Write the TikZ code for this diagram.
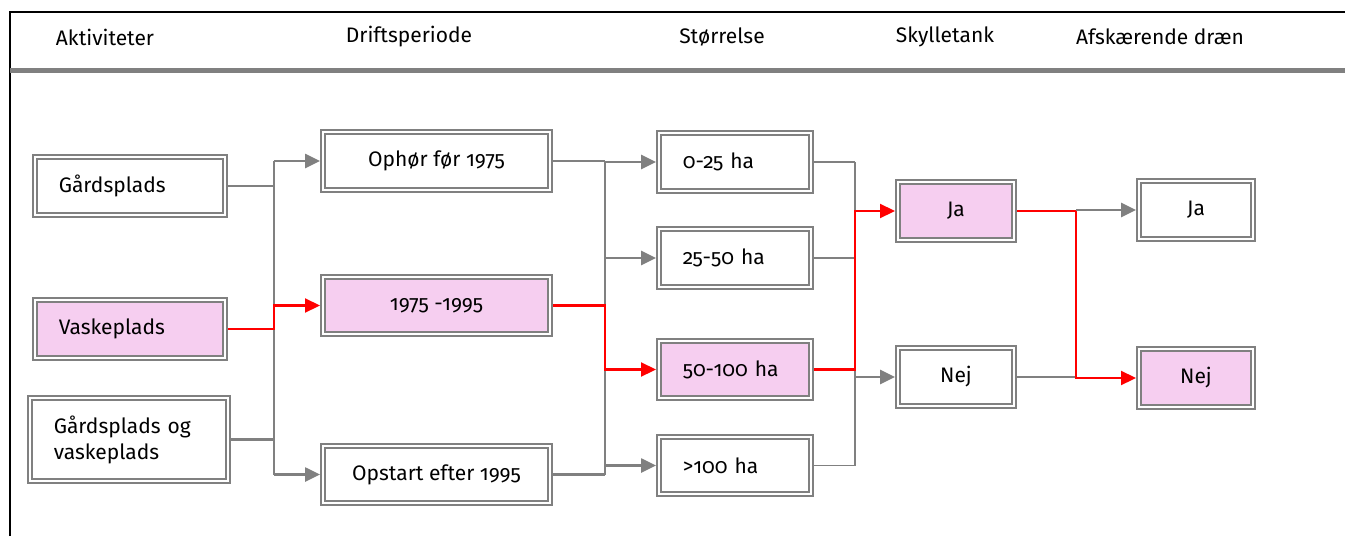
\documentclass[tikz,border=0pt]{standalone}
\usepackage{fontspec}
\setmainfont{Fira Sans}[Numbers=OldStyle]
\usetikzlibrary{arrows.meta}

\definecolor{boxgray}{RGB}{128,128,128}
\definecolor{pathred}{RGB}{255,0,0}
\definecolor{chosen}{RGB}{246,206,240}

\tikzset{
  box/.style={draw=boxgray, double=white, double distance=1.6pt, line width=2pt,
    outer sep=2.8pt, minimum height=57.5pt},
  lbox/.style={box, align=left, inner xsep=24pt, text width=#1},
  cbox/.style={box, align=center, minimum width=#1},
  gline/.style={draw=boxgray, line width=2.6pt},
  gthin/.style={draw=boxgray, line width=1.8pt},
  garrow/.style={gline, -{Triangle[length=15pt,width=14pt]}},
  rline/.style={draw=pathred, line width=2.2pt},
  rarrow/.style={rline, -{Triangle[length=15pt,width=14pt]}}
}

\begin{document}
\begin{tikzpicture}[x=1pt, y=-1pt, font=\fontsize{21}{26}\selectfont]
  \useasboundingbox (0,0) rectangle (1345,536);

  \draw[black, line width=1.5pt] (10,536) -- (10,12) -- (1345,12);
  \draw[boxgray, line width=5pt] (10,70) -- (1345,70);

  \node (h1) at (105,37) {Aktiviteter};
  \node (h2) at (409,37) {Driftsperiode};
  \node (h3) at (722,37) {Størrelse};
  \node (h4) at (945,37) {Skylletank};
  \node (h5) at (1160,37) {Afskærende dræn};

  \node[lbox=142.4pt] (gaard) at (130,186) {Gårdsplads};
  \node[lbox=142.4pt, fill=chosen] (vaske) at (130,329) {Vaskeplads};
  \node[lbox=150.4pt, minimum height=83.4pt] (begge) at (129,439.5) {Gårdsplads og\\vaskeplads};

  \node[cbox=227.4pt] (ophor) at (436.5,161) {Ophør før 1975};
  \node[cbox=227.4pt, fill=chosen] (mellem) at (436.5,305.5) {1975 -1995};
  \node[cbox=227.4pt] (opstart) at (436.5,474.5) {Opstart efter 1995};

  \node[lbox=104.4pt] (s1) at (735,162) {0-25 ha};
  \node[lbox=104.4pt] (s2) at (735,258) {25-50 ha};
  \node[lbox=104.4pt, fill=chosen] (s3) at (735,369.5) {50-100 ha};
  \node[lbox=104.4pt] (s4) at (735,465.5) {>100 ha};

  \node[cbox=116.4pt, fill=chosen] (tankja) at (956,211) {Ja};
  \node[cbox=116.4pt] (tanknej) at (956,377) {Nej};

  \node[cbox=114.4pt] (draenja) at (1196,210) {Ja};
  \node[cbox=114.4pt, fill=chosen] (draennej) at (1196,378) {Nej};

  \coordinate (j1) at (274,0);
  \coordinate (j2) at (605,0);
  \coordinate (j3) at (855,0);
  \coordinate (j4) at (1076,0);

  \draw[gline] (gaard.east) -- (gaard.east -| j1);
  \draw[gline] (begge.east) -- (begge.east -| j1);
  \draw[gline] (j1 |- ophor.west) -- (j1 |- opstart.west);
  \draw[garrow] (j1 |- ophor.west) -- (ophor.west);
  \draw[garrow] (j1 |- opstart.west) -- (opstart.west);

  \draw[gline] (ophor.east) -- (ophor.east -| j2);
  \draw[gline] (opstart.east) -- (opstart.east -| j2);
  \draw[gline] (j2 |- ophor.east) -- (j2 |- opstart.east);
  \draw[garrow] (j2 |- s1.west) -- (s1.west);
  \draw[garrow] (j2 |- s2.west) -- (s2.west);
  \draw[garrow] (j2 |- s4.west) -- (s4.west);

  \draw[gthin] (s1.east) -- (s1.east -| j3);
  \draw[gthin] (s2.east) -- (s2.east -| j3);
  \draw[gthin] (s4.east) -- (s4.east -| j3);
  \draw[gthin] (j3 |- s1.east) -- (j3 |- s4.east);
  \draw[garrow] (j3 |- tanknej.west) -- (tanknej.west);

  \draw[gthin] (tanknej.east) -- (tanknej.east -| j4);
  \draw[garrow] (j4 |- draenja.west) -- (draenja.west);

  \draw[rarrow] (vaske.east) -- (vaske.east -| j1) |- (mellem.west);
  \draw[rarrow] (mellem.east) -- (mellem.east -| j2) |- (s3.west);
  \draw[rarrow] (s3.east) -- (s3.east -| j3) |- (tankja.west);
  \draw[rline] (tankja.east) -- (tankja.east -| j4);
  \draw[rarrow] (tankja.east -| j4) |- (draennej.west);
\end{tikzpicture}
\end{document}
